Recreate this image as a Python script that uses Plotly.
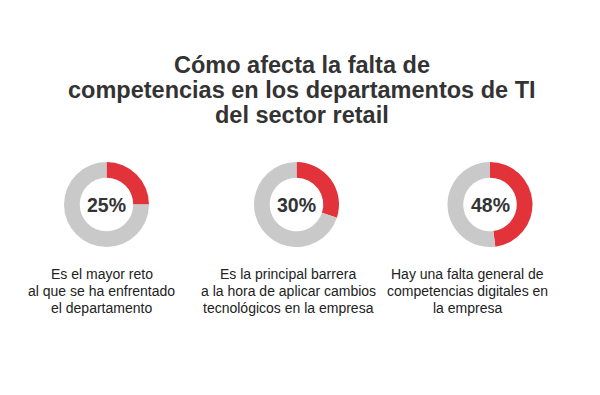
import plotly.graph_objects as go

W, H = 600, 395
OFF = 8  # page body margin offset

title_lines = ["Cómo afecta la falta de",
               "competencias en los departamentos de TI",
               "del sector retail"]
values = [25, 30, 48]
pct_labels = ["25%", "30%", "48%"]
captions = [
    ["Es el mayor reto", "al que se ha enfrentado", "el departamento"],
    ["Es la principal barrera", "a la hora de aplicar cambios", "tecnológicos en la empresa"],
    ["Hay una falta general de", "competencias digitales en", "la empresa"],
]

RED = "#e3333a"
GRAY = "#c9c9c9"
TXT = "#333333"

donut_cx = [106.5, 296.5, 490]
donut_cy = 204.5
donut_r = 42.5
caption_cx = [101.5, 288, 467]

def py(px):
    return 1 - (px - OFF) / H

def pxx(px):
    return (px - OFF) / W

fig = go.Figure()
for i, v in enumerate(values):
    cx = donut_cx[i]
    fig.add_trace(go.Pie(
        values=[v, 100 - v],
        hole=0.63,
        sort=False,
        direction="clockwise",
        rotation=0,
        marker=dict(colors=[RED, GRAY], line=dict(width=0)),
        textinfo="none",
        hoverinfo="none",
        showlegend=False,
        domain=dict(x=[pxx(cx - donut_r), pxx(cx + donut_r)],
                    y=[py(donut_cy + donut_r), py(donut_cy - donut_r)]),
    ))

annotations = []
title_y = [65, 90, 115]
for line, y in zip(title_lines, title_y):
    annotations.append(dict(text=f"<b>{line}</b>", x=pxx(302), y=py(y), xref="paper", yref="paper",
                            xanchor="center", yanchor="middle", showarrow=False,
                            font=dict(family="Liberation Sans, Arial", size=23.5, color=TXT)))
for i, lab in enumerate(pct_labels):
    annotations.append(dict(text=f"<b>{lab}</b>", x=pxx(donut_cx[i]), y=py(donut_cy), xref="paper", yref="paper",
                            xanchor="center", yanchor="middle", showarrow=False,
                            font=dict(family="Liberation Sans, Arial", size=19.5, color=TXT)))
cap_y = [273.5, 290.5, 307.5]
for i, lines in enumerate(captions):
    for line, y in zip(lines, cap_y):
        annotations.append(dict(text=line, x=pxx(caption_cx[i]), y=py(y), xref="paper", yref="paper",
                                xanchor="center", yanchor="middle", showarrow=False,
                                font=dict(family="Liberation Sans, Arial", size=14, color="#222222")))

fig.update_layout(width=W, height=H, margin=dict(l=0, r=0, t=0, b=0),
                  paper_bgcolor="white", plot_bgcolor="white",
                  annotations=annotations)
fig.write_html("out.html")
